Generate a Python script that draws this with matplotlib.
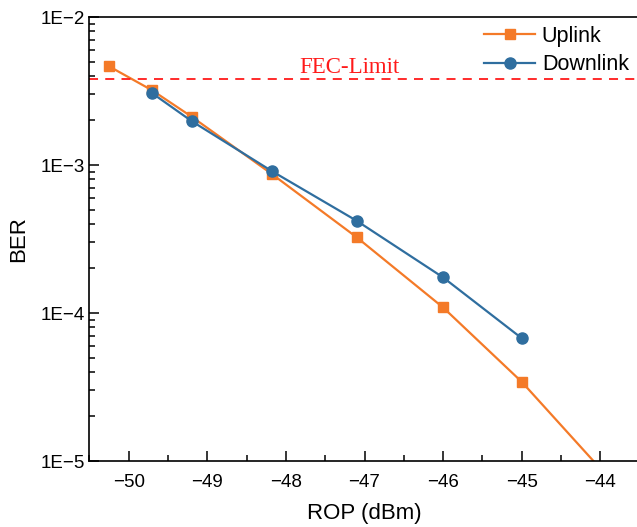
import math
import matplotlib
matplotlib.use('Agg')
import matplotlib.pyplot as plt
from matplotlib.ticker import LogLocator, MultipleLocator, FuncFormatter

# data
up_rop = [-50.25, -49.7, -49.2, -48.18, -47.1, -46.0, -45.0, -44.0]
up_ber = [4.64e-3, 3.19e-3, 2.12e-3, 8.7e-4, 3.25e-4, 1.09e-4, 3.43e-5, 8.9e-6]
down_rop = [-49.7, -49.2, -48.18, -47.1, -46.0, -45.0]
down_ber = [3.05e-3, 1.98e-3, 9.1e-4, 4.2e-4, 1.74e-4, 6.76e-5]
fec_limit = 3.8e-3

plt.rcParams['font.family'] = ['Liberation Sans', 'DejaVu Sans']

fig = plt.figure(figsize=(6.37, 5.27), dpi=100)
ax = fig.add_axes([0.1405, 0.1252, 0.8635, 0.8425])

orange = '#f47a28'
blue = '#2f6e9f'

ax.plot(up_rop, up_ber, color=orange, marker='s', markersize=7, linewidth=1.6, label='Uplink')
ax.plot(down_rop, down_ber, color=blue, marker='o', markersize=8, linewidth=1.6, label='Downlink')
ax.axhline(fec_limit, color='#ff1a1a', linestyle=(0, (5, 4)), linewidth=1.3)
ax.text(-47.19, 4.2e-3, 'FEC-Limit', color='#ff1a1a', fontsize=16.5,
        family=['Liberation Serif', 'DejaVu Serif'], ha='center', va='baseline')

ax.set_yscale('log')
ax.set_ylim(1e-5, 1e-2)
ax.set_xlim(-50.5, -43.5)
ax.xaxis.set_major_locator(MultipleLocator(1))
ax.xaxis.set_minor_locator(MultipleLocator(0.5))
ax.yaxis.set_major_locator(LogLocator(base=10, numticks=10))
ax.yaxis.set_minor_locator(LogLocator(base=10, subs=range(2, 10), numticks=20))
ax.yaxis.set_major_formatter(FuncFormatter(lambda v, p: '1E\u2212%d' % round(-math.log10(v))))
ax.yaxis.set_minor_formatter(FuncFormatter(lambda v, p: ''))
ax.xaxis.set_major_formatter(FuncFormatter(lambda v, p: '\u2212%d' % round(-v)))

ax.tick_params(which='both', direction='in', labelsize=13.5, width=1.1)
ax.tick_params(which='major', length=7)
ax.tick_params(which='minor', length=4)
ax.tick_params(axis='x', pad=9)
for s in ax.spines.values():
    s.set_linewidth(1.2)

ax.set_xlabel('ROP (dBm)', fontsize=16, labelpad=9)
ax.set_ylabel('BER', fontsize=16, labelpad=8)

ax.legend(loc='upper right', bbox_to_anchor=(1.004, 1.009), frameon=False, fontsize=15.5,
          handlelength=2.4, handletextpad=0.3, labelspacing=0.35, borderaxespad=0.2)

fig.savefig('out.png', dpi=100)
